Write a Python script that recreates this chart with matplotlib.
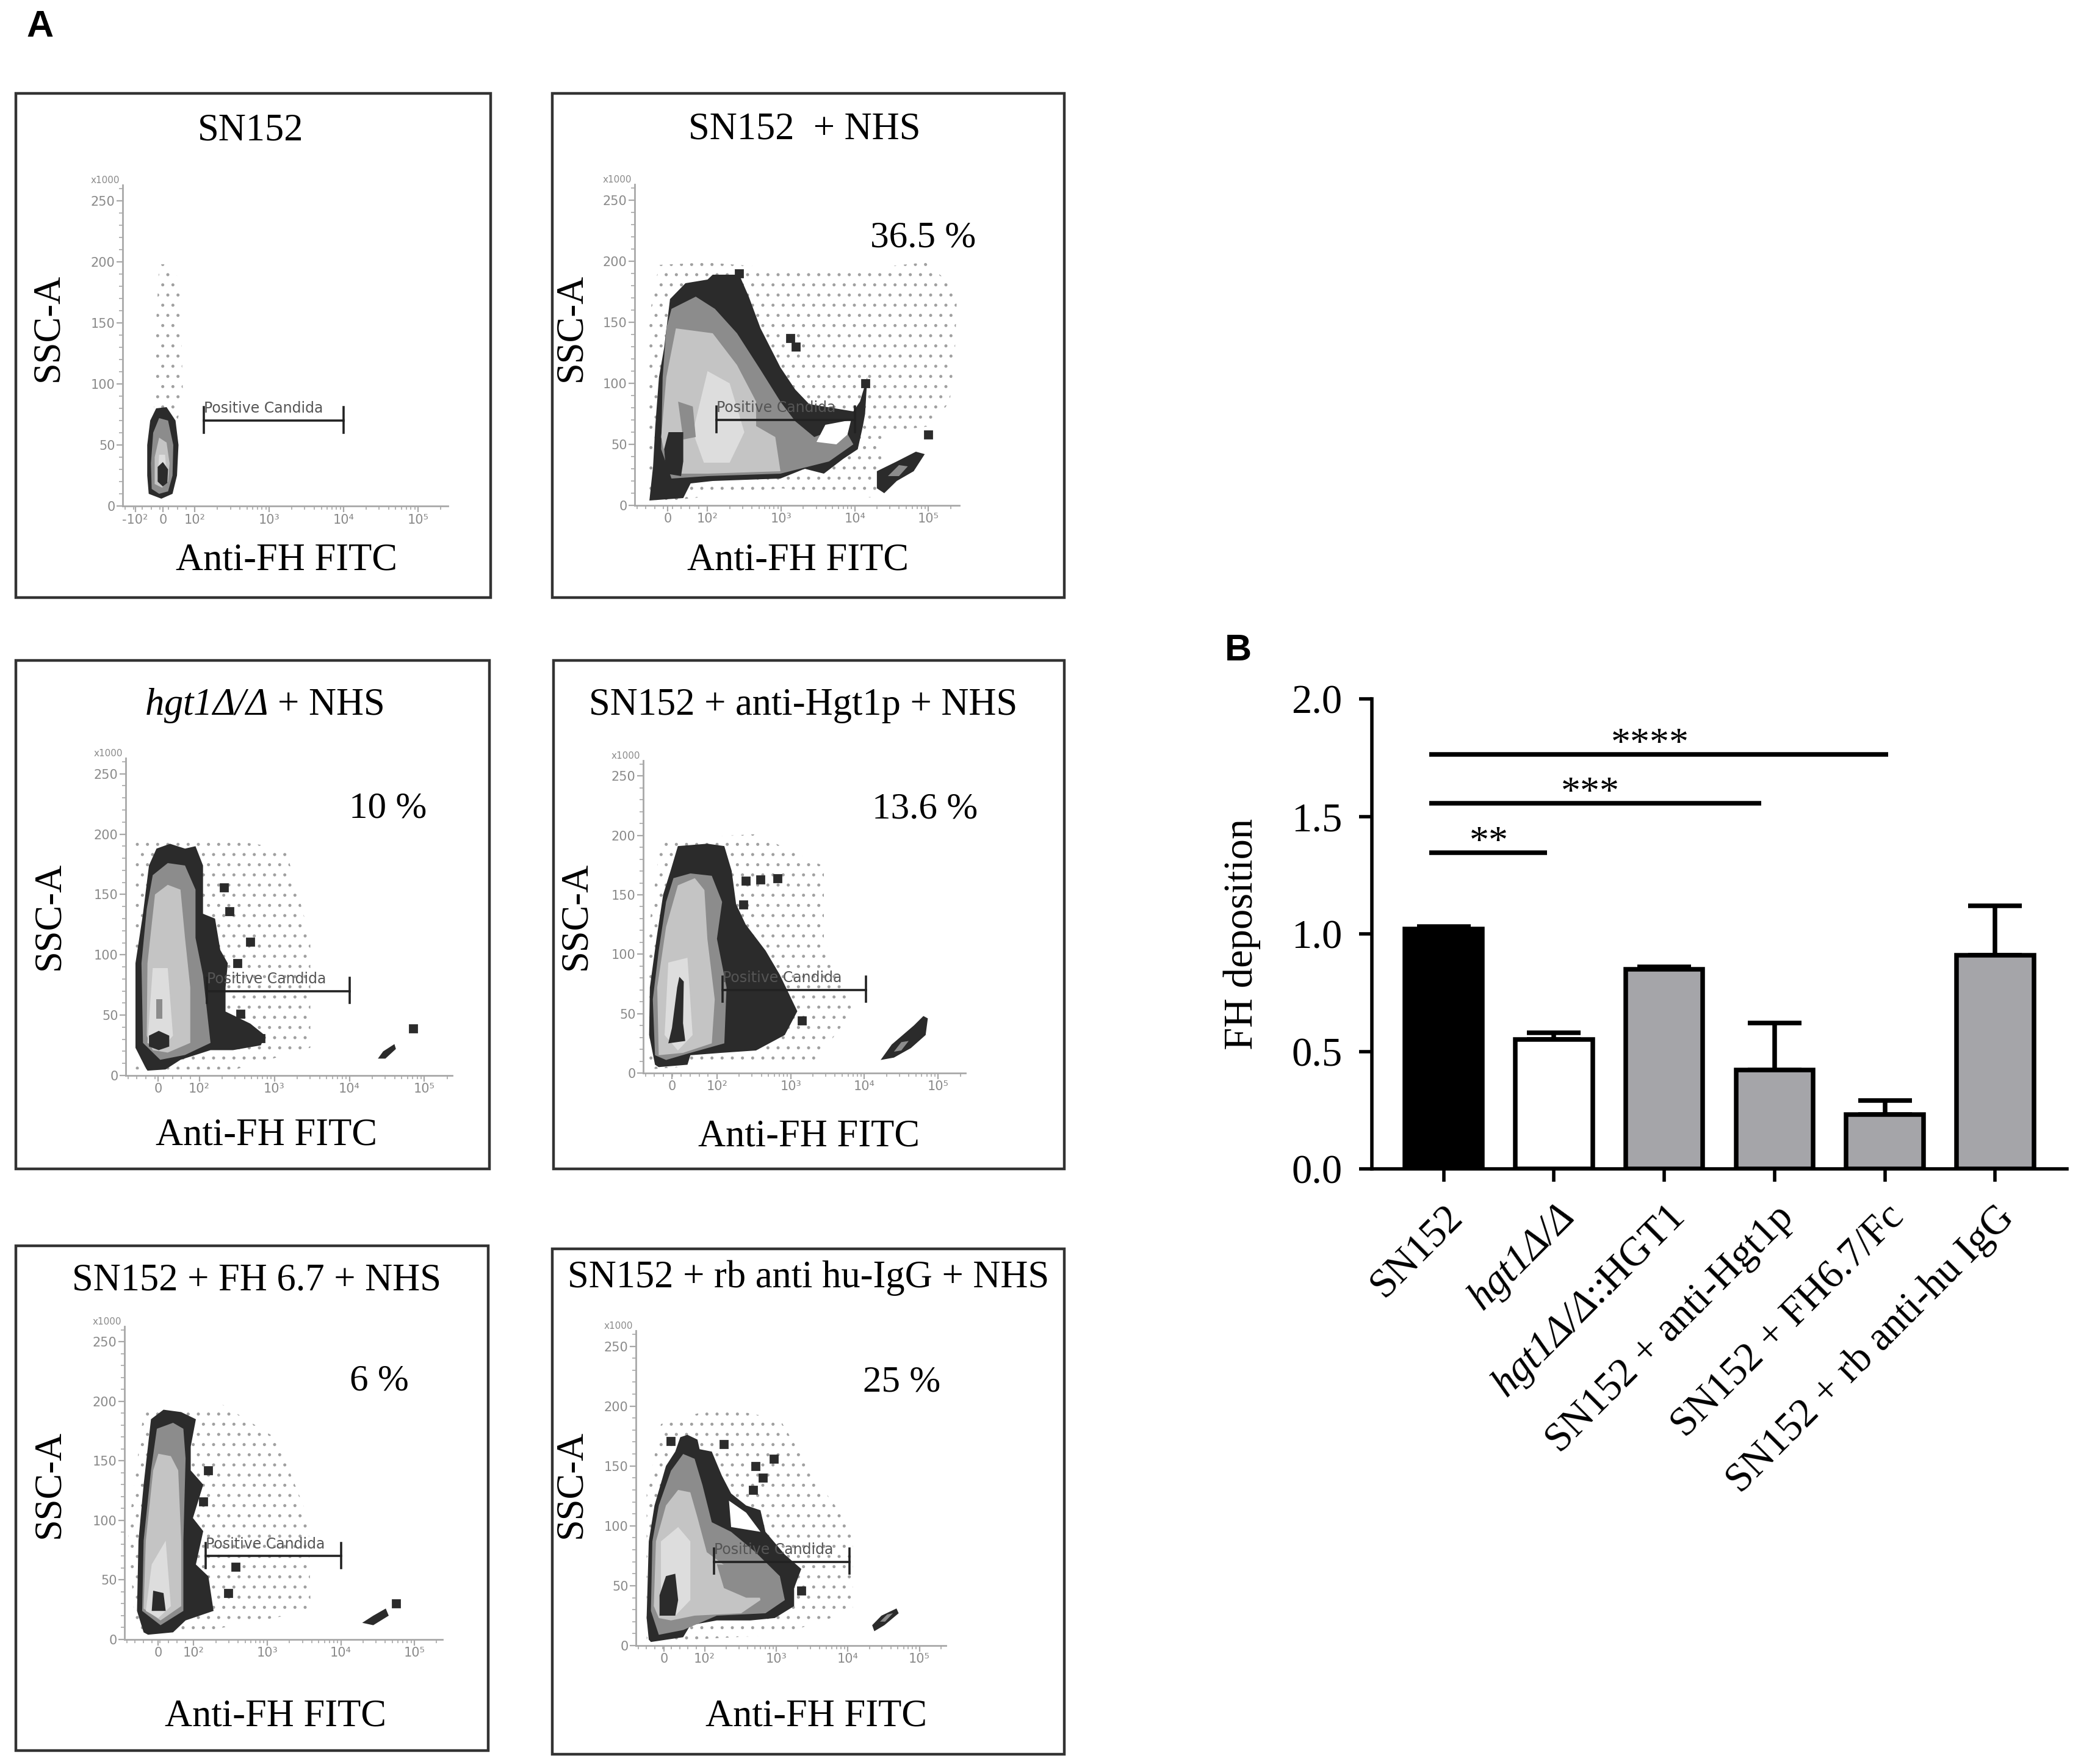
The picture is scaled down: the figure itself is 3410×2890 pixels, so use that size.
import numpy as np
import matplotlib
matplotlib.use("Agg")
import matplotlib.pyplot as plt
from matplotlib.patches import Polygon, Rectangle

plt.rcParams['font.family'] = ['Liberation Serif', 'DejaVu Serif']
# math text is only used for the italic gene names
plt.rcParams['mathtext.fontset'] = 'custom'
plt.rcParams['mathtext.rm'] = 'Liberation Serif:italic'
plt.rcParams['mathtext.it'] = 'Liberation Serif:italic'
plt.rcParams['hatch.linewidth'] = 0.6

W, H = 3410, 2890

## ---------------- Panel B data
groups = ['SN152', r'$hgt1Δ/Δ$', r'$hgt1Δ/Δ$::HGT1',
          'SN152 + anti-Hgt1p', 'SN152 + FH6.7/Fc', 'SN152 + rb anti-hu IgG']
fh_mean = [1.02, 0.55, 0.85, 0.42, 0.23, 0.91]
fh_err = [0.01, 0.03, 0.01, 0.20, 0.06, 0.21]
bar_colors = ['black', 'white', '#a5a5a9', '#a5a5a9', '#a5a5a9', '#a5a5a9']
sig_x0 = -0.13
sig_x1 = [0.94, 2.88, 4.03]
sig_y = [1.345, 1.556, 1.764]
sig_marks = ['**', '***', '****']
sig_text_x = [0.41, 1.33, 1.87]

## ---------------- Panel A data (x in decade units: 10^2 -> 2, 10^3 -> 3 ...)
titles = ['SN152', 'SN152  + NHS', r'$hgt1Δ/Δ$ + NHS', 'SN152 + anti-Hgt1p + NHS',
          'SN152 + FH 6.7 + NHS', 'SN152 + rb anti hu-IgG + NHS']
pct_text = [None, '36.5 %', '10 %', '13.6 %', '6 %', '25 %']
pct_x = [None, 4.93, 4.51, 4.82, 4.52, 4.75]
pct_y = [None, 219, 221, 222, 217, 220]
zero_pos = [1.57, 1.46, 1.45, 1.39, 1.52, 1.43]
x_lims = [(1.03, 5.40), (1.01, 5.42), (1.02, 5.37), (1.0, 5.37), (1.06, 5.38), (1.04, 5.37)]
gate_x = [(2.12, 4.0), (2.12, 4.0), (2.10, 4.0), (2.08, 4.02), (2.16, 4.0), (2.13, 4.02)]
gate_y = 70
ssc_ticks = [0, 50, 100, 150, 200, 250]

# density cloud outlines (x, y)
p1_outer = [(1.38,10),(1.36,25),(1.36,50),(1.40,70),(1.48,80),(1.62,81),(1.74,70),(1.78,50),(1.76,25),(1.70,10),(1.55,6)]
p1_gray = [(1.42,14),(1.41,35),(1.44,60),(1.52,72),(1.64,70),(1.71,50),(1.70,25),(1.64,12),(1.52,10)]
p1_light = [(1.46,18),(1.46,40),(1.52,56),(1.62,52),(1.66,35),(1.64,20),(1.56,15)]
p1_pale = [(1.50,22),(1.52,42),(1.60,42),(1.62,24)]
p1_core = [(1.50,20),(1.50,32),(1.57,36),(1.64,30),(1.63,19),(1.57,16)]
p1_sparse = [(1.45,78),(1.48,150),(1.52,198),(1.64,198),(1.80,185),(1.84,90),(1.76,68)]
p1_pop2 = []
p1_pop2_in = []
p1_blobs = []

p2_outer = [(1.21,4),(1.26,32),(1.29,65),(1.34,105),(1.41,129),(1.49,169),(1.70,182),(2.00,185),(2.07,189),
            (2.43,189),(2.56,171),(2.72,145),(2.99,113),(3.19,95),(3.38,83),(3.98,77),(4.07,85),(4.17,105),
            (4.14,75),(4.11,65),(4.04,46),(3.84,38),(3.58,26),(3.32,30),(2.99,22),(2.07,20),(1.77,18),(1.67,6)]
p2_gray = [(1.37,46),(1.39,105),(1.44,145),(1.51,161),(1.84,171),(2.10,161),(2.40,141),(2.72,111),(2.99,85),
           (3.19,69),(3.45,56),(3.84,65),(3.98,50),(3.65,36),(2.99,26),(2.00,24),(1.51,22)]
p2_light = [(1.37,56),(1.44,105),(1.57,145),(2.07,141),(2.40,115),(2.66,85),(2.66,65),(2.92,56),(2.99,28),
            (2.00,26),(1.47,26)]
p2_pale = [(1.80,60),(2.00,110),(2.30,100),(2.50,60),(2.30,35),(1.95,35)]
p2_mid = [(1.60,85),(1.80,81),(1.84,56),(1.67,54)]
p2_hole = [(3.48,52),(3.60,66),(3.95,70),(3.90,58),(3.75,50)]
p2_core = [(1.47,60),(1.67,60),(1.67,36),(1.64,24),(1.44,26),(1.41,46)]
p2_sparse = [(1.21,155),(1.34,197),(2.0,199),(3.65,191),(4.96,199),(5.39,177),(5.36,125),(5.29,85),
             (5.03,65),(4.40,60),(4.30,6),(2.99,14),(1.21,2)]
p2_pop2 = [(4.30,28),(4.57,36),(4.83,44),(4.95,42),(4.80,28),(4.57,20),(4.40,10),(4.30,14)]
p2_pop2_in = [(4.45,24),(4.60,33),(4.72,32),(4.60,24)]
p2_blobs = [(2.43,190),(3.20,130),(3.12,137),(5.00,58),(4.14,100)]

p3_outer = [(1.28,7),(1.15,23),(1.15,93),(1.25,134),(1.33,174),(1.43,188),(1.61,192),(1.81,188),(1.95,190),
            (2.05,174),(2.05,134),(2.21,130),(2.28,104),(2.38,93),(2.35,73),(2.35,53),(2.68,43),(2.88,33),
            (2.82,25),(2.45,21),(2.15,21),(1.75,13),(1.55,5),(1.31,4)]
p3_gray = [(1.25,27),(1.23,93),(1.30,138),(1.38,166),(1.58,176),(1.81,174),(1.95,154),(1.95,114),(2.05,83),
           (2.15,27),(1.81,17),(1.48,13)]
p3_light = [(1.30,33),(1.31,93),(1.41,150),(1.58,158),(1.75,154),(1.81,114),(1.88,73),(1.88,27),(1.58,19),(1.38,21)]
p3_pale = [(1.38,89),(1.58,89),(1.65,33),(1.48,21),(1.31,27),(1.35,63)]
p3_mid = [(1.43,47),(1.43,63),(1.51,63),(1.51,47)]
p3_hole = []
p3_core = [(1.33,24),(1.33,33),(1.46,37),(1.60,33),(1.60,24),(1.46,21)]
p3_sparse = [(1.15,198),(2.08,198),(3.15,188),(3.48,113),(3.48,23),(2.48,5),(1.15,5)]
p3_pop2 = [(4.38,14),(4.45,20),(4.60,26),(4.62,22),(4.48,14)]
p3_pop2_in = []
p3_blobs = [(2.33,156),(2.40,136),(2.68,111),(2.51,93),(2.55,51),(2.68,35),(2.82,31),(4.85,39)]

p4_outer = [(1.16,7),(1.08,32),(1.09,72),(1.18,113),(1.27,150),(1.37,170),(1.47,191),(1.87,193),(2.10,191),
            (2.20,170),(2.26,142),(2.39,125),(2.66,103),(2.85,83),(3.09,52),(2.92,32),(2.53,19),(2.06,17),
            (1.64,15),(1.60,7),(1.21,5)]
p4_gray = [(1.16,15),(1.13,62),(1.21,103),(1.31,144),(1.41,164),(1.64,168),(1.93,166),(2.07,144),(2.00,113),
           (2.13,72),(2.10,25),(1.64,17),(1.31,11)]
p4_light = [(1.21,15),(1.19,72),(1.31,123),(1.47,158),(1.70,164),(1.83,154),(1.87,113),(1.97,62),(1.93,25),(1.54,17)]
p4_pale = [(1.34,93),(1.60,97),(1.67,32),(1.47,19),(1.29,32)]
p4_mid = []
p4_hole = []
p4_core = [(1.49,81),(1.55,77),(1.54,42),(1.57,27),(1.34,25),(1.39,38),(1.46,72)]
p4_sparse = [(1.08,123),(1.24,197),(2.53,201),(3.45,174),(3.45,113),(3.84,52),(3.35,11),(1.87,7),(1.08,3)]
p4_pop2 = [(4.22,11),(4.37,24),(4.67,40),(4.80,48),(4.86,46),(4.83,32),(4.63,21),(4.40,13)]
p4_pop2_in = [(4.40,18),(4.50,26),(4.60,27),(4.50,19)]
p4_blobs = [(2.39,162),(2.59,163),(2.82,164),(2.36,142),(3.15,44)]

p5_outer = [(1.32,6),(1.23,24),(1.25,83),(1.32,130),(1.42,185),(1.59,193),(1.83,191),(2.03,185),(1.96,162),
            (1.96,142),(2.13,130),(1.99,102),(2.13,91),(2.03,63),(2.20,53),(2.27,24),(1.89,16),(1.72,6),(1.38,4)]
p5_gray = [(1.30,24),(1.32,83),(1.42,142),(1.50,177),(1.72,182),(1.86,177),(1.89,152),(1.86,83),(1.86,24),(1.55,12)]
p5_light = [(1.32,26),(1.35,83),(1.45,142),(1.52,156),(1.69,154),(1.79,142),(1.83,83),(1.83,28),(1.55,16)]
p5_pale = [(1.43,63),(1.62,83),(1.69,28),(1.52,18),(1.35,24)]
p5_mid = []
p5_hole = []
p5_core = [(1.45,41),(1.59,39),(1.62,24),(1.43,24)]
p5_sparse = [(1.11,91),(1.32,191),(2.40,197),(3.12,169),(3.56,102),(3.59,24),(2.23,8),(1.21,4)]
p5_pop2 = [(4.29,14),(4.44,20),(4.61,26),(4.65,20),(4.44,12)]
p5_pop2_in = []
p5_blobs = [(2.20,142),(2.13,116),(2.57,61),(2.47,39),(4.75,30)]

p6_outer = [(1.22,5),(1.19,23),(1.22,87),(1.30,117),(1.46,150),(1.59,162),(1.66,174),(1.76,176),(1.90,172),
            (1.93,164),(2.10,162),(2.24,142),(2.37,127),(2.58,117),(2.78,113),(2.85,95),(3.12,76),(3.35,64),
            (3.25,48),(3.25,33),(2.98,23),(2.64,21),(2.17,21),(1.80,17),(1.70,7),(1.25,3)]
p6_gray = [(1.25,29),(1.27,87),(1.36,117),(1.53,146),(1.70,160),(1.86,156),(1.97,134),(2.10,103),(2.37,95),
           (2.71,78),(3.05,58),(3.12,38),(2.85,27),(2.17,25),(1.70,13),(1.36,9)]
p6_light = [(1.29,33),(1.32,87),(1.46,117),(1.63,130),(1.80,128),(1.90,107),(2.03,78),(2.30,66),(2.71,58),
            (2.78,38),(2.51,27),(1.86,25),(1.53,21),(1.36,23)]
p6_pale = [(1.39,87),(1.63,99),(1.80,87),(1.80,38),(1.59,25),(1.39,29)]
p6_mid = [(2.17,68),(2.58,66),(3.05,58),(3.05,40),(2.58,40),(2.27,48)]
p6_hole = [(2.34,121),(2.58,111),(2.78,95),(2.37,99)]
p6_core = [(1.37,42),(1.46,58),(1.59,60),(1.63,38),(1.59,25),(1.37,25)]
p6_sparse = [(1.19,127),(1.39,185),(2.20,199),(3.05,189),(3.56,138),(4.07,97),(4.07,29),(3.05,9),(1.19,3)]
p6_pop2 = [(4.34,17),(4.47,25),(4.68,31),(4.71,27),(4.51,17),(4.37,12)]
p6_pop2_in = [(4.45,20),(4.55,26),(4.63,27),(4.52,20)]
p6_blobs = [(1.53,171),(2.27,168),(2.71,150),(2.81,140),(2.97,156),(2.68,130),(3.35,46)]

outer_list = [p1_outer, p2_outer, p3_outer, p4_outer, p5_outer, p6_outer]
gray_list = [p1_gray, p2_gray, p3_gray, p4_gray, p5_gray, p6_gray]
light_list = [p1_light, p2_light, p3_light, p4_light, p5_light, p6_light]
pale_list = [p1_pale, p2_pale, p3_pale, p4_pale, p5_pale, p6_pale]
mid_list = [[], p2_mid, p3_mid, p4_mid, p5_mid, p6_mid]
hole_list = [[], p2_hole, p3_hole, p4_hole, p5_hole, p6_hole]
core_list = [p1_core, p2_core, p3_core, p4_core, p5_core, p6_core]
sparse_list = [p1_sparse, p2_sparse, p3_sparse, p4_sparse, p5_sparse, p6_sparse]
pop2_list = [p1_pop2, p2_pop2, p3_pop2, p4_pop2, p5_pop2, p6_pop2]
pop2_in_list = [p1_pop2_in, p2_pop2_in, p3_pop2_in, p4_pop2_in, p5_pop2_in, p6_pop2_in]
blob_list = [p1_blobs, p2_blobs, p3_blobs, p4_blobs, p5_blobs, p6_blobs]

## ---------------- layout (pixels of the 3410x2890 figure)
ax_px = [(201, 829, 533, 526), (1040, 828, 532, 526), (206, 1762, 535, 520),
         (1054, 1758, 528, 512), (204, 2686, 521, 513), (1042, 2696, 508, 516)]
box_px = [(26, 153, 804, 979), (905, 153, 1744, 979), (26, 1082, 802, 1915),
          (907, 1082, 1744, 1915), (26, 2041, 800, 2868), (905, 2046, 1744, 2874)]
title_px = [(411, 214), (1318, 212), (433, 1156), (1316, 1156), (420, 2098), (1325, 2094)]
xlab_px = [(470, 918), (1307, 918), (437, 1860), (1325, 1862), (452, 2813), (1338, 2813)]
ylab_px = [(79, 536), (936, 536), (81, 1500), (944, 1500), (81, 2431), (936, 2431)]

fig = plt.figure(figsize=(W / 200, H / 200), dpi=200)

def fx(p):
    return p / W

def fy(p):
    return 1 - p / H

BLACK = '#2b2b2b'
GRAY = '#8c8c8c'
LIGHT = '#c4c4c4'
PALE = '#dddddd'

for i in range(6):
    x0, yb, w, h = ax_px[i]
    ax = fig.add_axes([fx(x0), fy(yb), w / W, h / H])
    ax.set_xlim(*x_lims[i])
    ax.set_ylim(0, 263)
    for s in ['top', 'right']:
        ax.spines[s].set_visible(False)
    for s in ['left', 'bottom']:
        ax.spines[s].set_color('#a8a8a8')
        ax.spines[s].set_linewidth(1.0)

    # sparse events drawn as a stipple
    if sparse_list[i]:
        ax.add_patch(Polygon(sparse_list[i], closed=True, facecolor='none', edgecolor='#a0a0a0',
                             linewidth=0, hatch='..', zorder=1))
    layers = [(outer_list[i], BLACK), (gray_list[i], GRAY), (light_list[i], LIGHT),
              (pale_list[i], PALE), (mid_list[i], GRAY), (hole_list[i], 'white'),
              (core_list[i], BLACK)]
    for k, (pts, col) in enumerate(layers):
        if pts:
            ax.add_patch(Polygon(pts, closed=True, facecolor=col, edgecolor='none', zorder=2 + k))
    if pop2_list[i]:
        ax.add_patch(Polygon(pop2_list[i], closed=True, facecolor=BLACK, edgecolor='none', zorder=2))
    if pop2_in_list[i]:
        ax.add_patch(Polygon(pop2_in_list[i], closed=True, facecolor=GRAY, edgecolor='none', zorder=3))
    if blob_list[i]:
        bx = [b[0] for b in blob_list[i]]
        by = [b[1] for b in blob_list[i]]
        ax.plot(bx, by, 's', color=BLACK, markersize=4, zorder=3)

    # gate
    g0, g1 = gate_x[i]
    ax.plot([g0, g1], [gate_y, gate_y], color='#222222', lw=1.3, zorder=20)
    ax.plot([g0, g0], [gate_y - 10, gate_y + 11], color='#222222', lw=1.3, zorder=20)
    ax.plot([g1, g1], [gate_y - 10, gate_y + 11], color='#222222', lw=1.3, zorder=20)
    ax.text(g0, gate_y + 4, 'Positive Candida', fontsize=8.5, family='DejaVu Sans',
            color='#555555', ha='left', va='bottom', zorder=21)

    # axis ticks
    z = zero_pos[i]
    if i == 0:
        xt = [1.20, z, 2, 3, 4, 5]
        xl = ['-10²', '0', '10²', '10³', '10⁴', '10⁵']
    else:
        xt = [z, 2, 3, 4, 5]
        xl = ['0', '10²', '10³', '10⁴', '10⁵']
    ax.set_xticks(xt)
    ax.set_xticklabels(xl, fontsize=7.5, family='DejaVu Sans', color='#8a8a8a')
    minor = [d + np.log10(k) for d in (2, 3, 4, 5) for k in range(2, 10)]
    minor += list(np.linspace(x_lims[i][0] + 0.03, 2, 9))
    minor = [m for m in minor if x_lims[i][0] < m < x_lims[i][1]]
    ax.set_xticks(minor, minor=True)
    ax.set_yticks(ssc_ticks)
    ax.set_yticklabels([str(t) for t in ssc_ticks], fontsize=7.5, family='DejaVu Sans', color='#8a8a8a')
    ax.set_yticks(np.arange(0, 261, 10), minor=True)
    ax.tick_params(which='major', length=3.5, width=0.8, color='#a8a8a8', pad=1)
    ax.tick_params(which='minor', length=2, width=0.6, color='#a8a8a8')
    ax.text(-0.01, 1.0, 'x1000', transform=ax.transAxes, fontsize=5.5, family='DejaVu Sans',
            color='#8a8a8a', ha='right', va='bottom')

    if pct_text[i]:
        ax.text(pct_x[i], pct_y[i], pct_text[i], fontsize=22, ha='center', va='center', zorder=30)

    # frame and labels
    b0, b1, b2, b3 = box_px[i]
    fig.add_artist(Rectangle((fx(b0), fy(b3)), (b2 - b0) / W, (b3 - b1) / H, transform=fig.transFigure,
                             fill=False, edgecolor='#333333', linewidth=1.6))
    fig.text(fx(title_px[i][0]), fy(title_px[i][1]), titles[i], fontsize=22.5, ha='center', va='center')
    fig.text(fx(xlab_px[i][0]), fy(xlab_px[i][1]), 'Anti-FH FITC', fontsize=22.5, ha='center', va='center')
    fig.text(fx(ylab_px[i][0]), fy(ylab_px[i][1]), 'SSC-A', fontsize=22.5, ha='center', va='center',
             rotation=90)

fig.text(fx(66), fy(44), 'A', fontsize=22, family='Liberation Sans', weight='bold', ha='center', va='center')
fig.text(fx(2029), fy(1066), 'B', fontsize=22, family='Liberation Sans', weight='bold', ha='center', va='center')

## ---------------- Panel B
axb = fig.add_axes([fx(2248), fy(1915), (3387 - 2248) / W, (1915 - 1145) / H])
xpos = np.arange(len(groups))
axb.errorbar(xpos, fh_mean, yerr=[np.zeros(len(fh_err)), fh_err], fmt='none', ecolor='black',
             elinewidth=2.7, capsize=16, capthick=2.7, zorder=1)
axb.bar(xpos, fh_mean, width=0.70, color=bar_colors, edgecolor='black', linewidth=2.7, zorder=2)
for x1, yy, mark, tx in zip(sig_x1, sig_y, sig_marks, sig_text_x):
    axb.plot([sig_x0, x1], [yy, yy], color='black', lw=2.7, solid_capstyle='butt')
    axb.text(tx, yy, mark, fontsize=23, ha='center', va='baseline')
axb.set_xlim(-0.65, 5.65)
axb.set_ylim(0, 2.0)
axb.set_yticks([0, 0.5, 1.0, 1.5, 2.0])
axb.set_yticklabels(['0.0', '0.5', '1.0', '1.5', '2.0'], fontsize=24)
axb.set_xticks(xpos)
axb.set_xticklabels(groups, fontsize=24, rotation=45, ha='right', rotation_mode='anchor')
for s in ['top', 'right']:
    axb.spines[s].set_visible(False)
for s in ['left', 'bottom']:
    axb.spines[s].set_linewidth(2.0)
axb.tick_params(axis='both', length=7.5, width=2.0, pad=10)
axb.set_ylabel('FH deposition', fontsize=24, labelpad=18)

fig.savefig('out.png', dpi=200)
